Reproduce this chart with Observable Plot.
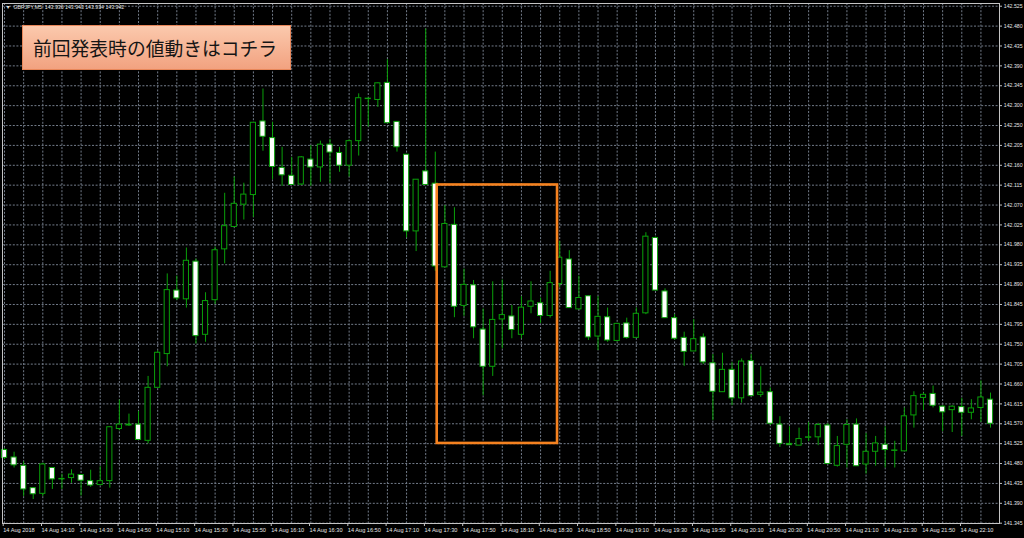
<!DOCTYPE html>
<html><head><meta charset="utf-8">
<script src="https://cdn.jsdelivr.net/npm/d3@7"></script>
<script src="https://cdn.jsdelivr.net/npm/@observablehq/plot@0.6"></script>
<style>
html,body{margin:0;padding:0;background:#000;}
#wrap{position:relative;width:1024px;height:538px;overflow:hidden;}
#note{position:absolute;left:22px;top:25px;width:269px;height:45px;box-sizing:border-box;border:1px solid #e8875a;background:linear-gradient(#fbc9ad,#f2a280);font-family:"Noto Sans CJK JP";font-size:18.8px;color:#151515;line-height:43px;padding-left:10px;letter-spacing:0px;white-space:nowrap;}
</style></head><body><div id="wrap"><div id="note">前回発表時の値動きはコチラ</div></div>
<script>
// GBPJPY M5, 14 Aug 2018, bars from 13:50 (index 0) to 22:25 (index 103)
const opens = [141.512,141.495,141.476,141.425,141.412,141.471,141.445,141.448,141.455,141.441,
141.432,141.441,141.560,141.568,141.570,141.533,141.654,141.731,141.876,141.856,
141.942,141.775,141.854,141.970,142.021,142.072,142.094,142.262,142.224,142.156,
142.138,142.118,142.175,142.157,142.209,142.190,142.161,142.217,142.313,142.311,
142.350,142.261,142.186,142.011,142.148,142.120,141.929,142.026,141.841,141.888,
141.787,141.702,141.810,141.817,141.775,141.839,141.847,141.818,141.891,141.947,
141.833,141.863,141.771,141.815,141.761,141.801,141.768,141.824,141.996,141.874,
141.813,141.768,141.737,141.769,141.710,141.644,141.695,141.630,141.715,141.638,
141.644,141.570,141.526,141.522,141.540,141.541,141.568,141.476,141.524,141.570,
141.479,141.508,141.524,141.510,141.509,141.591,141.631,141.640,141.611,141.603,
141.610,141.597,141.608,141.627];
const highs = [141.515,141.507,141.485,141.425,141.482,141.471,141.457,141.467,141.455,141.466,
141.474,141.565,141.626,141.594,141.600,141.680,141.738,141.914,141.909,141.973,
141.948,141.871,141.975,142.098,142.135,142.121,142.259,142.336,142.260,142.203,
142.180,142.182,142.207,142.217,142.221,142.203,142.220,142.325,142.315,142.350,
142.403,142.261,142.186,142.129,142.473,142.192,142.070,142.065,141.925,141.899,
141.834,141.896,141.900,141.842,141.862,141.896,141.859,141.920,141.988,141.967,
141.909,141.863,141.862,141.836,141.801,141.813,141.836,142.008,141.998,141.880,
141.821,141.781,141.810,141.777,141.730,141.733,141.712,141.720,141.730,141.702,
141.654,141.588,141.565,141.562,141.575,141.573,141.572,141.543,141.581,141.583,
141.550,141.543,141.565,141.532,141.608,141.645,141.642,141.658,141.613,141.613,
141.630,141.627,141.670,141.642];
const lows = [141.490,141.471,141.406,141.399,141.406,141.422,141.422,141.436,141.407,141.427,
141.432,141.425,141.556,141.566,141.535,141.526,141.654,141.702,141.853,141.836,
141.754,141.758,141.844,141.937,142.021,142.037,142.043,142.194,142.129,142.114,
142.116,142.116,142.114,142.123,142.120,142.146,142.135,142.183,142.249,142.294,
142.258,142.192,141.996,141.965,142.117,141.920,141.929,141.814,141.817,141.766,
141.636,141.680,141.743,141.766,141.766,141.823,141.801,141.813,141.883,141.836,
141.833,141.762,141.739,141.758,141.759,141.765,141.768,141.821,141.876,141.813,
141.762,141.703,141.737,141.707,141.579,141.644,141.613,141.619,141.635,141.632,
141.568,141.518,141.523,141.522,141.531,141.522,141.480,141.473,141.471,141.475,
141.457,141.475,141.471,141.471,141.509,141.562,141.602,141.608,141.554,141.552,
141.543,141.581,141.575,141.562];
const closes = [141.494,141.477,141.422,141.411,141.479,141.445,141.446,141.456,141.442,141.431,
141.441,141.564,141.570,141.570,141.535,141.654,141.734,141.877,141.858,141.944,
141.772,141.852,141.968,142.023,142.074,142.095,142.259,142.227,142.158,142.139,
142.117,142.180,142.157,142.209,142.191,142.161,142.217,142.315,142.314,142.349,
142.258,142.203,142.011,142.129,142.117,141.931,142.028,141.839,141.889,141.792,
141.702,141.809,141.820,141.786,141.837,141.851,141.818,141.893,141.951,141.836,
141.859,141.769,141.816,141.762,141.800,141.768,141.823,141.999,141.876,141.813,
141.766,141.736,141.765,141.712,141.645,141.695,141.630,141.714,141.635,141.643,
141.572,141.526,141.523,141.537,141.541,141.569,141.480,141.521,141.569,141.475,
141.508,141.527,141.512,141.511,141.589,141.635,141.638,141.613,141.598,141.611,
141.597,141.607,141.632,141.572];

const xTickIdx = [0,4,8,12,16,20,24,28,32,36,40,44,48,52,56,60,64,68,72,76,80,84,88,92,96,100];
const xTickLabels = ["14 Aug 2018","14 Aug 14:10","14 Aug 14:30","14 Aug 14:50","14 Aug 15:10","14 Aug 15:30",
"14 Aug 15:50","14 Aug 16:10","14 Aug 16:30","14 Aug 16:50","14 Aug 17:10","14 Aug 17:30","14 Aug 17:50",
"14 Aug 18:10","14 Aug 18:30","14 Aug 18:50","14 Aug 19:10","14 Aug 19:30","14 Aug 19:50","14 Aug 20:10",
"14 Aug 20:30","14 Aug 20:50","14 Aug 21:10","14 Aug 21:30","14 Aug 21:50","14 Aug 22:10"];
const yTickLabels = ["142.525","142.480","142.435","142.390","142.345","142.300","142.250","142.205","142.160",
"142.115","142.070","142.025","141.980","141.935","141.890","141.845","141.795","141.750","141.705","141.660",
"141.615","141.570","141.525","141.480","141.435","141.390","141.345"];
const headerText = "▼  GBPJPY,M5  143.936 143.943 143.934 143.942";
// highlighted period (previous release)
const highlight = [{start: 45.2, end: 57.77, low: 141.527, high: 142.117}];

const bars = opens.map((o, i) => ({i, o, h: highs[i], l: lows[i], c: closes[i]}));
const bears = bars.filter(d => d.c < d.o);
const bulls = bars.filter(d => d.c >= d.o);
const yTop = +yTickLabels[0], yBot = +yTickLabels[yTickLabels.length - 1];
const yTickPos = yTickLabels.map((_, k) => yTop - k * (yTop - yBot) / (yTickLabels.length - 1));
const gridIdx = d3.range(0, 104, 2);

const green = "#0aa00a";
const gridColor = "#737c8a";

const chart = Plot.plot({
  width: 1024, height: 538,
  marginLeft: 2, marginRight: 25, marginTop: 3, marginBottom: 15,
  style: {background: "#000", fontFamily: "Liberation Sans"},
  x: {type: "linear", domain: [-0.21, 103.94]},
  y: {domain: [141.3443, 142.5312]},
  marks: [
    Plot.ruleY(yTickPos, {stroke: gridColor, strokeDasharray: "2,1.6"}),
    Plot.ruleX(gridIdx, {stroke: gridColor, strokeDasharray: "2,1.6"}),
    Plot.ruleX(bars, {x: "i", y1: "l", y2: "h", stroke: green, strokeWidth: 1}),
    Plot.rect(bulls, {x1: d => d.i - 0.27, x2: d => d.i + 0.27, y1: "o", y2: "c", fill: "#000", stroke: green, strokeWidth: 1}),
    Plot.rect(bears, {x1: d => d.i - 0.27, x2: d => d.i + 0.27, y1: "o", y2: "c", fill: "#fff", stroke: green, strokeWidth: 1}),
    Plot.rect(highlight, {x1: "start", x2: "end", y1: "low", y2: "high", fill: "none", stroke: "#f58220", strokeWidth: 2.6}),
    Plot.frame({stroke: "#c4c4c4"}),
    Plot.axisX({ticks: xTickIdx, tickFormat: d => xTickLabels[xTickIdx.indexOf(d)], tickSize: 3, tickPadding: 1.5,
      textAnchor: "start", dx: -1.3, fontSize: 5.6, fill: "#e6e6e6", stroke: "#c4c4c4", label: null}),
    Plot.axisY({anchor: "right", ticks: yTickPos, tickFormat: d => yTickLabels[yTickPos.indexOf(d)], tickSize: 2,
      tickPadding: 2.3, textAnchor: "start", fontSize: 5.2, fill: "#e6e6e6", stroke: "#c4c4c4", label: null}),
    Plot.text([headerText], {frameAnchor: "top-left", dx: 3, dy: 2, fontSize: 5.2, fill: "#e6e6e6"})
  ]
});
document.getElementById("wrap").prepend(chart);
</script>
</body></html>
